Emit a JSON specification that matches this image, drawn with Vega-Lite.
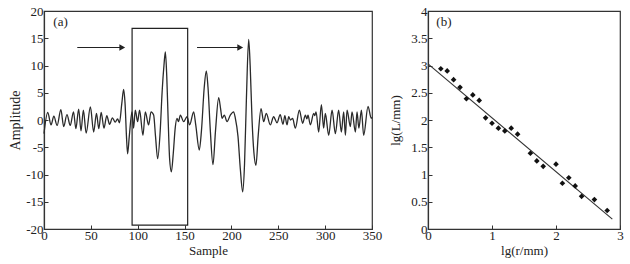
{
  "$schema": "https://vega.github.io/schema/vega-lite/v6.json",
  "padding": {"left": 8, "top": 4, "right": 5, "bottom": 2},
  "background": "white",
  "spacing": 56,
  "bounds": "flush",
  "datasets": {
    "signal": [
      {"x":0,"y":-2.5},{"x":4,"y":1.4},{"x":7.5,"y":-0.9},{"x":10.5,"y":0.7},{"x":14,"y":-1.0},{"x":18,"y":1.9},{"x":21,"y":-1.2},{"x":24.5,"y":1.0},{"x":28,"y":-1.0},{"x":31.5,"y":1.5},{"x":34,"y":-1.6},{"x":37,"y":2.0},{"x":39.5,"y":-2.0},{"x":42,"y":1.8},{"x":45,"y":-2.4},{"x":49.5,"y":2.4},{"x":53,"y":-2.2},{"x":56,"y":1.2},{"x":58.5,"y":-1.6},{"x":61,"y":1.4},{"x":64,"y":-1.5},{"x":67,"y":0.8},{"x":70,"y":-0.8},{"x":73,"y":0.4},{"x":76,"y":-0.4},{"x":78.5,"y":0.2},{"x":80.5,"y":-0.5},{"x":83,"y":3.0},{"x":85,"y":5.6},{"x":86.5,"y":3},{"x":88,"y":-3},{"x":89.2,"y":-6.2},{"x":91,"y":-3},{"x":93.9,"y":1.5},
      {"x":95.6,"y":-1.5},{"x":97.4,"y":1.8},{"x":99.9,"y":-0.3},{"x":102,"y":1.8},{"x":105.6,"y":-2.8},{"x":108.1,"y":1.5},{"x":111.6,"y":-0.9},{"x":114.2,"y":1.5},{"x":117,"y":0.9},{"x":119,"y":-3},{"x":121.3,"y":-7.1},{"x":124,"y":-2},{"x":126,"y":5},{"x":128,"y":10},{"x":129.5,"y":12.5},{"x":131,"y":8},{"x":132.5,"y":0},{"x":134,"y":-7},{"x":135.9,"y":-9.5},{"x":138,"y":-6},{"x":140,"y":-1.5},{"x":141.9,"y":0.3},{"x":143.5,"y":-0.3},{"x":145.5,"y":0.9},{"x":149,"y":-0.3},{"x":152.6,"y":0.6},{"x":155.4,"y":-0.9},{"x":159.7,"y":1.5},{"x":162,"y":-1},{"x":165.7,"y":-5.5},{"x":168,"y":-2},{"x":171,"y":6},{"x":173.2,"y":9.0},{"x":175,"y":6},{"x":177.5,"y":-2},{"x":180.3,"y":-8.2},{"x":183,"y":-2},{"x":186.4,"y":4.1},{"x":188.5,"y":2},{"x":190,"y":0.3},{"x":192.4,"y":0.9},{"x":195.3,"y":-0.3},{"x":198.8,"y":0.9},{"x":202.3,"y":1.5},{"x":204.2,"y":0.3},{"x":207,"y":-3},{"x":209.5,"y":-9},{"x":212,"y":-13.2},{"x":214,"y":-8},{"x":216,"y":4},{"x":218.4,"y":14.8},{"x":220,"y":10},{"x":222,"y":0},{"x":224,"y":-6},{"x":226.2,"y":-8.3},{"x":228.5,"y":-3},{"x":231.6,"y":2.1},{"x":234.4,"y":-0.3},{"x":237.2,"y":1.2},{"x":241.5,"y":-0.9},{"x":245,"y":0.6},{"x":248.7,"y":-0.5},{"x":252,"y":1.0},{"x":255,"y":-0.8},{"x":257,"y":0.8},{"x":259.3,"y":-0.9},{"x":261.1,"y":0.6},{"x":263,"y":0},{"x":265.3,"y":0.3},{"x":268.2,"y":-1.5},{"x":272.5,"y":1.8},{"x":276,"y":-0.6},{"x":278.9,"y":0.9},{"x":280.5,"y":0.2},{"x":281.7,"y":0.9},{"x":284.2,"y":-0.9},{"x":287.8,"y":1.2},{"x":289,"y":0.8},{"x":290.3,"y":1.5},{"x":293.1,"y":-2.2},{"x":296,"y":2.8},{"x":298.4,"y":-1.5},{"x":300.2,"y":1.2},{"x":303.8,"y":-2.8},{"x":307.4,"y":1.8},{"x":310.9,"y":-2.5},{"x":314.4,"y":1.8},{"x":317.3,"y":-2.2},{"x":319.8,"y":1.5},{"x":321.6,"y":-2.8},{"x":323.4,"y":1.8},{"x":326.9,"y":-1.2},{"x":328.7,"y":1.5},{"x":332.3,"y":-2.2},{"x":334,"y":1.5},{"x":336,"y":-1.5},{"x":338.7,"y":1.8},{"x":341.1,"y":-2.8},{"x":345.8,"y":2.5},{"x":349.2,"y":0.3},{"x":350,"y":0.5}
    ],
    "points": [
      {"x":0.2,"y":2.94},{"x":0.3,"y":2.90},{"x":0.4,"y":2.74},{"x":0.5,"y":2.60},{"x":0.6,"y":2.39},{"x":0.7,"y":2.46},{"x":0.8,"y":2.36},{"x":0.9,"y":2.04},{"x":1.0,"y":1.94},{"x":1.1,"y":1.85},{"x":1.2,"y":1.80},{"x":1.3,"y":1.85},{"x":1.4,"y":1.74},{"x":1.6,"y":1.39},{"x":1.7,"y":1.25},{"x":1.8,"y":1.15},{"x":2.0,"y":1.19},{"x":2.1,"y":0.84},{"x":2.2,"y":0.94},{"x":2.3,"y":0.79},{"x":2.4,"y":0.60},{"x":2.6,"y":0.54},{"x":2.8,"y":0.34}
    ],
    "fit": [{"x":0,"y":3.03},{"x":2.88,"y":0.18}]
  },
  "hconcat": [
    {
      "width": 328,
      "height": 218,
      "encoding": {
        "x": {"field": "x", "type": "quantitative", "title": "Sample",
              "scale": {"domain": [0, 350], "nice": false},
              "axis": {"values": [0,50,100,150,200,250,300,350], "labelExpr": "'' + datum.value", "labelPadding": 4, "titlePadding": 2}},
        "y": {"field": "y", "type": "quantitative", "title": "Amplitude",
              "scale": {"domain": [-20, 20], "nice": false},
              "axis": {"values": [-20,-15,-10,-5,0,5,10,15,20], "labelExpr": "'' + datum.value", "titleFontSize": 14, "labelPadding": 5}}
      },
      "layer": [
        {
          "data": {"name": "signal"},
          "mark": {"type": "line", "color": "#2a2a2a", "strokeWidth": 1.3, "interpolate": "monotone"}
        },
        {
          "data": {"values": [{"x": 94, "x2": 153.3, "y": -19.3, "y2": 16.8}]},
          "mark": {"type": "rect", "fill": null, "fillOpacity": 0, "stroke": "#222", "strokeWidth": 1.2},
          "encoding": {
            "x2": {"field": "x2"},
            "y2": {"field": "y2"}
          }
        },
        {
          "data": {"values": [{"x": 35.5, "x2": 84, "y": 13.3}, {"x": 163.3, "x2": 210, "y": 13.3}]},
          "mark": {"type": "rule", "color": "#222", "strokeWidth": 1.2},
          "encoding": {
            "x2": {"field": "x2"}
          }
        },
        {
          "data": {"values": [{"x": 83.5, "y": 13.3}, {"x": 209.4, "y": 13.3}]},
          "mark": {"type": "point", "shape": "triangle-right", "filled": true, "color": "#222", "size": 45, "opacity": 1}
        },
        {
          "data": {"values": [{"x": 10, "y": 18, "t": "(a)"}]},
          "mark": {"type": "text", "align": "left", "baseline": "middle", "fontSize": 13, "font": "Liberation Serif", "color": "#222"},
          "encoding": {
            "text": {"field": "t"}
          }
        }
      ]
    },
    {
      "width": 192,
      "height": 218,
      "encoding": {
        "x": {"field": "x", "type": "quantitative", "title": "lg(r/mm)",
              "scale": {"domain": [0, 3], "nice": false},
              "axis": {"values": [0,1,2,3], "labelExpr": "'' + datum.value", "labelPadding": 4, "titlePadding": 2}},
        "y": {"field": "y", "type": "quantitative", "title": "lg(L/mm)",
              "scale": {"domain": [0, 4], "nice": false},
              "axis": {"values": [0,0.5,1,1.5,2,2.5,3,3.5,4], "labelExpr": "'' + datum.value", "titlePadding": 8, "labelPadding": 5}}
      },
      "layer": [
        {
          "data": {"name": "fit"},
          "mark": {"type": "line", "color": "#333", "strokeWidth": 1.1}
        },
        {
          "data": {"name": "points"},
          "mark": {"type": "point", "shape": "diamond", "filled": true, "color": "#111", "size": 32, "opacity": 1}
        },
        {
          "data": {"values": [{"x": 0.13, "y": 3.8, "t": "(b)"}]},
          "mark": {"type": "text", "align": "left", "baseline": "middle", "fontSize": 13, "font": "Liberation Serif", "color": "#222"},
          "encoding": {
            "text": {"field": "t"}
          }
        }
      ]
    }
  ],
  "config": {
    "font": "Liberation Serif",
    "view": {"stroke": "#333", "strokeWidth": 1.2},
    "axis": {
      "labelFont": "Liberation Serif", "labelFontSize": 13, "labelColor": "#222",
      "titleFont": "Liberation Serif", "titleFontSize": 13, "titleFontWeight": "normal", "titleColor": "#222",
      "domainColor": "#333", "domainWidth": 1.2, "tickColor": "#333", "tickSize": -4, "tickWidth": 1,
      "grid": false, "labelPadding": 3, "titlePadding": 3, "labelOverlap": false, "labelFlush": false
    }
  }
}
